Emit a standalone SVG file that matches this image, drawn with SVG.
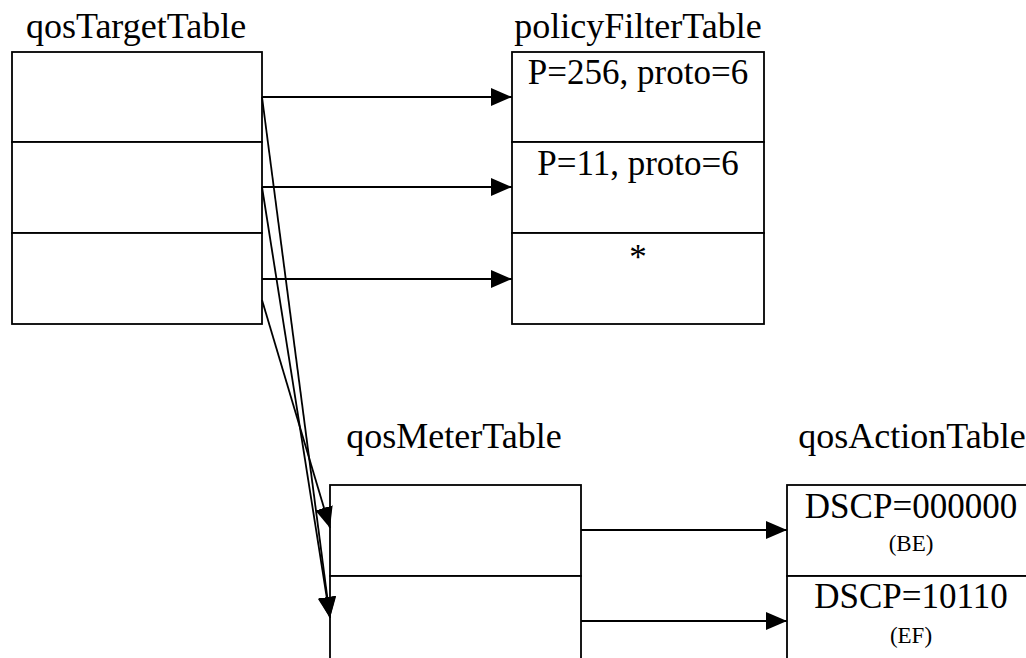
<svg xmlns="http://www.w3.org/2000/svg" width="1026" height="658" viewBox="0 0 1026 658">
  <style>
    .cell { fill: #ffffff; stroke: #000000; stroke-width: 1.8; }
    text { font-family: 'Liberation Serif', 'Times New Roman', serif; fill: #000000; text-anchor: middle; }
    .title { font-size: 36px; }
    .entry { font-size: 35px; }
    .note { font-size: 23px; }
    .link { fill: none; stroke: #000000; stroke-width: 1.8; }
  </style>
  <defs>
    <marker id="head" markerUnits="userSpaceOnUse" markerWidth="22" markerHeight="20" refX="21" refY="9" orient="auto">
      <path d="M0,0 L21,9 L0,18 Z" fill="#000000"/>
    </marker>
  </defs>
  <rect width="1026" height="658" fill="#ffffff"/>

  <!-- qosTargetTable: three rows -->
  <g id="qosTargetTable">
    <text class="title" x="136" y="38">qosTargetTable</text>
    <rect class="cell" x="12" y="52" width="250" height="90"/>
    <rect class="cell" x="12" y="142" width="250" height="91"/>
    <rect class="cell" x="12" y="233" width="250" height="91"/>
  </g>

  <!-- policyFilterTable: three filter rows -->
  <g id="policyFilterTable">
    <text class="title" x="638" y="38">policyFilterTable</text>
    <rect class="cell" x="512" y="52" width="252" height="90"/>
    <rect class="cell" x="512" y="142" width="252" height="91"/>
    <rect class="cell" x="512" y="233" width="252" height="91"/>
    <text class="entry" x="638" y="84">P=256, proto=6</text>
    <text class="entry" x="638" y="175">P=11, proto=6</text>
    <text class="entry" x="638" y="269">*</text>
  </g>

  <!-- qosMeterTable: rows run past the bottom edge -->
  <g id="qosMeterTable">
    <text class="title" x="454" y="448">qosMeterTable</text>
    <rect class="cell" x="330" y="485" width="251" height="91"/>
    <rect class="cell" x="330" y="576" width="251" height="91"/>
  </g>

  <!-- qosActionTable: rows run past the right edge -->
  <g id="qosActionTable">
    <text class="title" x="912" y="448">qosActionTable</text>
    <rect class="cell" x="787" y="485" width="251" height="91"/>
    <rect class="cell" x="787" y="576" width="251" height="91"/>
    <text class="entry" x="911" y="518">DSCP=000000</text>
    <text class="note" x="911" y="551">(BE)</text>
    <text class="entry" x="911" y="608">DSCP=10110</text>
    <text class="note" x="911" y="643">(EF)</text>
  </g>

  <!-- pointers between tables -->
  <g id="connectors">
    <line class="link" x1="262" y1="97" x2="512" y2="97" marker-end="url(#head)"/>
    <line class="link" x1="262" y1="187" x2="512" y2="187" marker-end="url(#head)"/>
    <line class="link" x1="262" y1="279" x2="512" y2="279" marker-end="url(#head)"/>
    <line class="link" x1="262" y1="97" x2="330" y2="618" marker-end="url(#head)"/>
    <line class="link" x1="262" y1="187" x2="330" y2="618" marker-end="url(#head)"/>
    <line class="link" x1="262" y1="300" x2="330" y2="528" marker-end="url(#head)"/>
    <line class="link" x1="581" y1="530" x2="787" y2="530" marker-end="url(#head)"/>
    <line class="link" x1="581" y1="621" x2="787" y2="621" marker-end="url(#head)"/>
  </g>
</svg>
